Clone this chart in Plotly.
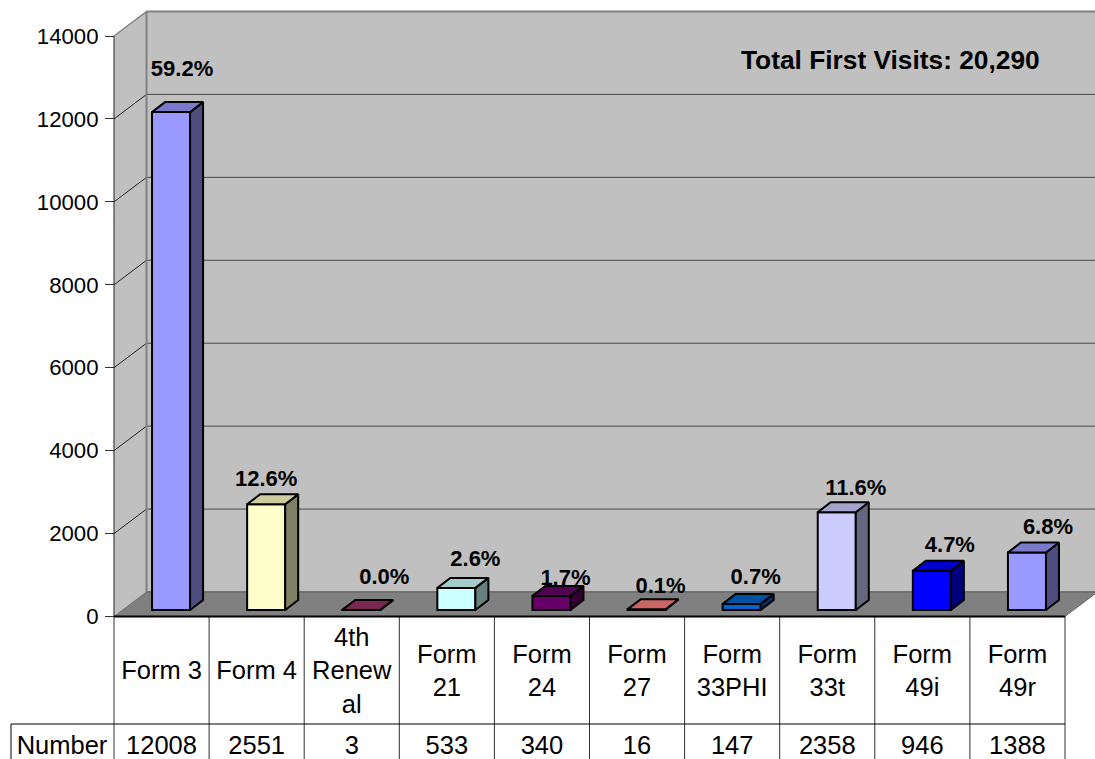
import plotly.graph_objects as go

categories = ["Form 3", "Form 4", "4th<br>Renew<br>al", "Form<br>21", "Form<br>24",
              "Form<br>27", "Form<br>33PHI", "Form<br>33t", "Form<br>49i", "Form<br>49r"]
numbers = [12008, 2551, 3, 533, 340, 16, 147, 2358, 946, 1388]
percents = ["59.2%", "12.6%", "0.0%", "2.6%", "1.7%", "0.1%", "0.7%", "11.6%", "4.7%", "6.8%"]
colors = ["#9999FF", "#FFFFCC", "#993366", "#CCFFFF", "#660066",
          "#FF8080", "#0066CC", "#CCCCFF", "#0000FF", "#9999FF"]
y_ticks = [0, 2000, 4000, 6000, 8000, 10000, 12000, 14000]
label_dx_px = [11, 0, 23, 19, 14, 14, 14, 19, 18, 21]
label_dy_px = [-42, -24, -31, -27, -16, -22, -25, -23, -24, -24]
title_text = "Total First Visits: 20,290"
row_name = "Number"

W, H = 1095, 759
X0, CAT = 161.55, 95.1        # pixel centre of first category, pixels per category
Y0, K = 616.5, 14000 / 580.5  # pixel of value 0, value units per pixel


def dx(p):
    return p / CAT


def dy(p):
    return p * K


def X(p):
    return (p - X0) / CAT


def Y(p):
    return (Y0 - p) * K


idx = list(range(len(categories)))
WALL_X, WALL_Y = dx(32.5), dy(24.5)
BAR_SHIFT, BAR_W, BAR_BASE = 0.1, 0.4, dy(6.5)
DEPTH_X, DEPTH_Y = dx(13), dy(10)
left, right = -0.5, len(categories) - 0.5
TOP = y_ticks[-1]


def shade(c, f):
    r, g, b = int(c[1:3], 16), int(c[3:5], 16), int(c[5:7], 16)
    return "#%02X%02X%02X" % (int(r * f), int(g * f), int(b * f))


shapes = []


def poly(xs, ys, fill, lw=0, lc=None, layer="below"):
    path = "M" + " L".join(f"{a},{b}" for a, b in zip(xs, ys)) + " Z"
    shapes.append(dict(type="path", path=path, xref="x", yref="y", fillcolor=fill, layer=layer,
                       line=dict(width=lw, color=lc or fill)))


def seg(x0, y0, x1, y1, color="#000000", w=1, layer="below"):
    shapes.append(dict(type="line", x0=x0, y0=y0, x1=x1, y1=y1, xref="x", yref="y", layer=layer,
                       line=dict(color=color, width=w)))


# back wall, side wall, floor
poly([left + WALL_X, right + WALL_X + 1, right + WALL_X + 1, left + WALL_X],
     [WALL_Y, WALL_Y, TOP + WALL_Y, TOP + WALL_Y], "#C0C0C0")
poly([left, left + WALL_X, left + WALL_X, left], [0, WALL_Y, TOP + WALL_Y, TOP], "#C0C0C0")
poly([left, right, right + WALL_X, left + WALL_X], [0, 0, WALL_Y, WALL_Y], "#808080")
# gridlines
for t in y_ticks[1:-1]:
    seg(left, t, left + WALL_X, t + WALL_Y, "#222222")
    seg(left + WALL_X, t + WALL_Y, right + WALL_X + 1, t + WALL_Y, "#484848")
seg(left + WALL_X, WALL_Y, right + WALL_X + 1, WALL_Y, "#707070", 2)
seg(left + WALL_X, WALL_Y, left + WALL_X, TOP + WALL_Y, "#808080", 2)
seg(left + WALL_X, TOP + WALL_Y, right + WALL_X + 1, TOP + WALL_Y, "#808080", 2)
seg(left, TOP, left + WALL_X, TOP + WALL_Y, "#808080", 1.5)
seg(left, WALL_Y * 0, left + WALL_X, WALL_Y, "#707070", 1)
seg(left, 0, left, TOP, "#222222", 1)
seg(right, 0, right + WALL_X, WALL_Y, "#707070", 1)

# data table
row_y = Y(724)
bottom = Y(H + 2)
for i in range(len(categories) + 1):
    seg(left + i, 0, left + i, bottom, "#303030", 1)
seg(left, 0, right, 0, "#000000", 2)
seg(X(11), row_y, right, row_y, "#000000", 1)
seg(X(11), row_y, X(11), bottom, "#000000", 1)

fig = go.Figure()
fig.add_trace(go.Bar(x=[i + BAR_SHIFT for i in idx], y=numbers, base=BAR_BASE, width=BAR_W,
                     marker=dict(color=colors, line=dict(color="#000000", width=2)),
                     hoverinfo="skip", showlegend=False))

# percent labels sit behind the 3-D faces
fig.add_trace(go.Scatter(
    x=[i + BAR_SHIFT + dx(d) for i, d in zip(idx, label_dx_px)],
    y=[v + BAR_BASE - dy(d) for v, d in zip(numbers, label_dy_px)],
    text=percents, mode="text", textposition="middle center",
    textfont=dict(family="Liberation Sans", size=22, color="#000000", weight="bold"),
    hoverinfo="skip", showlegend=False))

# top and side faces
for i, v, c in zip(idx, numbers, colors):
    xl = i + BAR_SHIFT - BAR_W / 2
    xr = i + BAR_SHIFT + BAR_W / 2
    top = v + BAR_BASE
    fig.add_trace(go.Scatter(x=[xr, xr + DEPTH_X, xr + DEPTH_X, xr, xr],
                             y=[BAR_BASE, BAR_BASE + DEPTH_Y, top + DEPTH_Y, top, BAR_BASE],
                             mode="lines", fill="toself", fillcolor=shade(c, 0.5),
                             line=dict(color="#000000", width=2),
                             hoverinfo="skip", showlegend=False))
    fig.add_trace(go.Scatter(x=[xl, xr, xr + DEPTH_X, xl + DEPTH_X, xl],
                             y=[top, top, top + DEPTH_Y, top + DEPTH_Y, top],
                             mode="lines", fill="toself", fillcolor=shade(c, 0.8),
                             line=dict(color="#000000", width=2),
                             hoverinfo="skip", showlegend=False))

# table text
table_font = dict(family="Liberation Sans", size=25.5, color="#000000")
fig.add_trace(go.Scatter(x=idx, y=[Y(673)] * len(idx), text=categories, mode="text",
                         textposition="middle center", textfont=table_font,
                         hoverinfo="skip", showlegend=False))
fig.add_trace(go.Scatter(x=idx + [X(62)], y=[Y(748)] * (len(idx) + 1),
                         text=[str(n) for n in numbers] + [row_name], mode="text",
                         textposition="middle center", textfont=table_font,
                         hoverinfo="skip", showlegend=False))

fig.add_annotation(x=X(890.5), y=Y(60), text=f"<b>{title_text}</b>", showarrow=False,
                   font=dict(family="Liberation Sans", size=26.3, color="#000000"))

fig.update_layout(
    width=W, height=H, margin=dict(l=0, r=0, t=0, b=0), autosize=False,
    paper_bgcolor="#FFFFFF", plot_bgcolor="#FFFFFF", showlegend=False, shapes=shapes,
    xaxis=dict(range=[X(0), X(W)], visible=False, fixedrange=True),
    yaxis=dict(range=[Y(H), Y(0)], anchor="free", position=114 / W, tickmode="array",
               tickvals=y_ticks, ticktext=[str(t) for t in y_ticks], ticks="outside", ticklen=9,
               tickwidth=1, tickcolor="#333333", showgrid=False, zeroline=False, showline=False,
               ticklabelstandoff=2,
               tickfont=dict(family="Liberation Sans", size=22.2, color="#000000"), fixedrange=True),
)
fig.write_html("out.html", config=dict(displayModeBar=False),
               post_script="document.body.style.margin='0';document.documentElement.style.overflow='hidden';")
